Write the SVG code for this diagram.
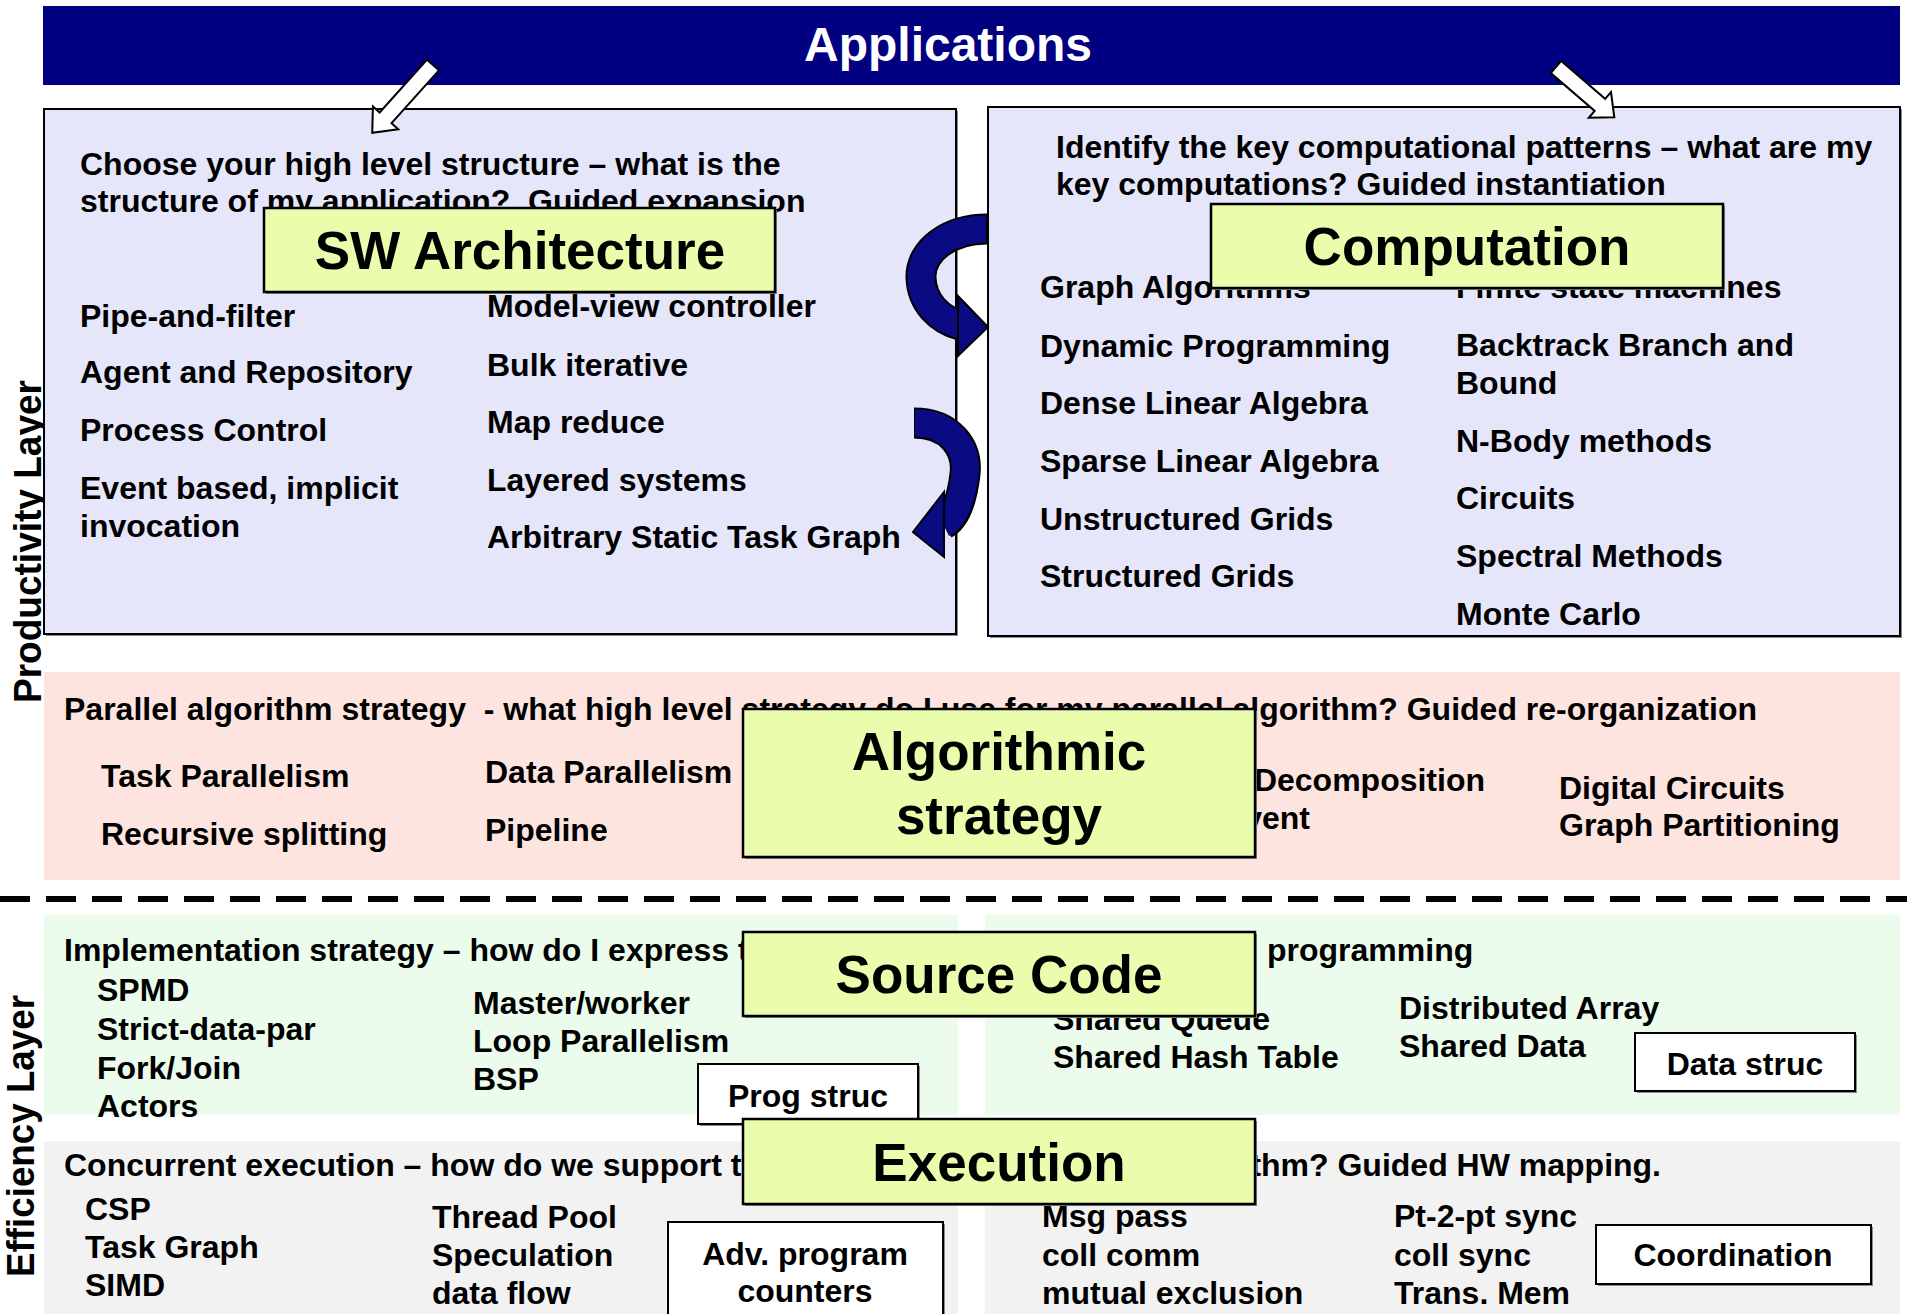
<svg xmlns="http://www.w3.org/2000/svg" width="1907" height="1314" viewBox="0 0 1907 1314">
<defs>
<style>
.t{font-family:'Liberation Sans',Arial,Helvetica,sans-serif;font-weight:bold;font-size:32px;fill:#000}
.pre{white-space:pre}
.big{font-size:53px;text-anchor:middle}
.mid{text-anchor:middle}
.end{text-anchor:end}
.side{font-size:38px}
.panel{fill:#E6E6FA;stroke:#000;stroke-width:2}
.shadow{fill:#8a8a8a}
.ybox{fill:#E9FDAD;stroke:#000;stroke-width:2.5}
.wbox{fill:#fff;stroke:#000;stroke-width:2}
.warrow{fill:#fff;stroke:#000;stroke-width:2;stroke-linejoin:miter}
.rib-o{fill:none;stroke:#000;stroke-width:31}
.rib-i{fill:none;stroke:#0A0A82;stroke-width:27}
.head{fill:#0A0A82;stroke:#000;stroke-width:2;stroke-linejoin:miter}
</style>
</defs>
<rect width="1907" height="1314" fill="#fff"/>

<g id="banner">
<rect x="43" y="6" width="1857" height="79" fill="#000080"/>
<text class="t mid" x="948" y="61" style="fill:#fff;font-size:48px">Applications</text>
</g>

<g id="layer-labels">
<text class="t side" transform="translate(41,703) rotate(-90)" textLength="323" lengthAdjust="spacingAndGlyphs">Productivity Layer</text>
<text class="t side" transform="translate(34,1277) rotate(-90)" textLength="282" lengthAdjust="spacingAndGlyphs">Efficiency Layer</text>
</g>

<g id="sw-panel">
<rect class="shadow" x="46" y="111" width="912" height="525"/>
<rect class="panel" x="44" y="109" width="912" height="525"/>
<text class="t" x="80" y="175">Choose your high level structure – what is the</text>
<text class="t pre" x="80" y="212" xml:space="preserve">structure of my application?  Guided expansion</text>
<text class="t" x="80" y="327">Pipe-and-filter</text>
<text class="t" x="80" y="383">Agent and Repository</text>
<text class="t" x="80" y="441">Process Control</text>
<text class="t" x="80" y="499">Event based, implicit</text>
<text class="t" x="80" y="537">invocation</text>
<text class="t" x="487" y="317">Model-view controller</text>
<text class="t" x="487" y="376">Bulk iterative</text>
<text class="t" x="487" y="433">Map reduce</text>
<text class="t" x="487" y="491">Layered systems</text>
<text class="t" x="487" y="548">Arbitrary Static Task Graph</text>
</g>

<g id="comp-panel">
<rect class="shadow" x="990" y="109" width="912" height="529"/>
<rect class="panel" x="988" y="107" width="912" height="529"/>
<text class="t" x="1056" y="158">Identify the key computational patterns – what are my</text>
<text class="t" x="1056" y="195">key computations? Guided instantiation</text>
<text class="t" x="1040" y="298">Graph Algorithms</text>
<text class="t" x="1040" y="357">Dynamic Programming</text>
<text class="t" x="1040" y="414">Dense Linear Algebra</text>
<text class="t" x="1040" y="472">Sparse Linear Algebra</text>
<text class="t" x="1040" y="530">Unstructured Grids</text>
<text class="t" x="1040" y="587">Structured Grids</text>
<text class="t" x="1456" y="298">Finite state machines</text>
<text class="t" x="1456" y="356">Backtrack Branch and</text>
<text class="t" x="1456" y="394">Bound</text>
<text class="t" x="1456" y="452">N-Body methods</text>
<text class="t" x="1456" y="509">Circuits</text>
<text class="t" x="1456" y="567">Spectral Methods</text>
<text class="t" x="1456" y="625">Monte Carlo</text>
</g>

<g id="algo-band">
<rect x="44" y="672" width="1856" height="208" fill="#FDE4DF"/>
<text class="t pre" x="64" y="720" xml:space="preserve" textLength="1693" lengthAdjust="spacing">Parallel algorithm strategy  - what high level strategy do I use for my parallel algorithm? Guided re-organization</text>
<text class="t" x="101" y="787">Task Parallelism</text>
<text class="t" x="101" y="845">Recursive splitting</text>
<text class="t" x="485" y="783">Data Parallelism</text>
<text class="t" x="485" y="841">Pipeline</text>
<text class="t end" x="1485" y="791">Geometric Decomposition</text>
<text class="t end" x="1310" y="829">Discrete Event</text>
<text class="t" x="1559" y="799">Digital Circuits</text>
<text class="t" x="1559" y="836">Graph Partitioning</text>
</g>

<g id="divider">
<line x1="0" y1="899" x2="1907" y2="899" stroke="#000" stroke-width="6" stroke-dasharray="30 16"/>
</g>

<g id="impl-band">
<rect x="44" y="915" width="914" height="200" fill="#EBFCEC"/>
<rect x="985" y="915" width="915" height="200" fill="#EBFCEC"/>
<text class="t" x="64" y="961">Implementation strategy – how do I express the</text>
<text class="t" x="1267" y="961">programming</text>
<text class="t" x="97" y="1001">SPMD</text>
<text class="t" x="97" y="1040">Strict-data-par</text>
<text class="t" x="97" y="1079">Fork/Join</text>
<text class="t" x="97" y="1117">Actors</text>
<text class="t" x="473" y="1014">Master/worker</text>
<text class="t" x="473" y="1052">Loop Parallelism</text>
<text class="t" x="473" y="1090">BSP</text>
<text class="t" x="1053" y="1030">Shared Queue</text>
<text class="t" x="1053" y="1068">Shared Hash Table</text>
<text class="t" x="1399" y="1019">Distributed Array</text>
<text class="t" x="1399" y="1057">Shared Data</text>
</g>

<g id="exec-band">
<rect x="44" y="1141" width="914" height="173" fill="#F2F2F2"/>
<rect x="985" y="1141" width="915" height="173" fill="#F2F2F2"/>
<text class="t" x="64" y="1176">Concurrent execution – how do we support the</text>
<text class="t end" x="1661" y="1176">algorithm? Guided HW mapping.</text>
<text class="t" x="85" y="1220">CSP</text>
<text class="t" x="85" y="1258">Task Graph</text>
<text class="t" x="85" y="1296">SIMD</text>
<text class="t" x="432" y="1228">Thread Pool</text>
<text class="t" x="432" y="1266">Speculation</text>
<text class="t" x="432" y="1304">data flow</text>
<text class="t" x="1042" y="1227">Msg pass</text>
<text class="t" x="1042" y="1266">coll comm</text>
<text class="t" x="1042" y="1304">mutual exclusion</text>
<text class="t" x="1394" y="1227">Pt-2-pt sync</text>
<text class="t" x="1394" y="1266">coll sync</text>
<text class="t" x="1394" y="1304">Trans. Mem</text>
</g>

<g id="connectors">
<polygon class="warrow" transform="translate(433,65) rotate(131.9)" points="0,-8 71,-8 71,-17 91,0 71,17 71,8 0,8"/>
<polygon class="warrow" transform="translate(1556,67) rotate(40.8)" points="0,-8 58,-8 58,-17 77,0 58,17 58,8 0,8"/>
<path class="rib-o" d="M 987 229 C 950 229, 920 250, 921 278 C 922 303, 940 320, 960 325"/>
<path class="rib-i" d="M 986 229 C 950 229, 920 250, 921 278 C 922 303, 940 320, 961 325"/>
<polygon class="head" points="958,296 988,327 958,356"/>
<path class="rib-o" d="M 914 423 C 950 423, 968 448, 965 474 C 962 500, 955 518, 944 524"/>
<path class="rib-i" d="M 915 423 C 950 423, 968 448, 965 474 C 962 500, 955 518, 943 524"/>
<polygon class="head" points="944,492 913,532 944,557"/>
</g>

<g id="sw-architecture">
<rect class="shadow" x="266" y="210" width="511" height="84"/>
<rect class="ybox" x="264" y="208" width="511" height="84"/>
<text class="t big" x="520" y="269">SW Architecture</text>
</g>

<g id="computation">
<rect class="shadow" x="1213" y="206" width="512" height="84"/>
<rect class="ybox" x="1211" y="204" width="512" height="84"/>
<text class="t big" x="1467" y="265">Computation</text>
</g>

<g id="algorithmic-strategy">
<rect class="shadow" x="745" y="711" width="512" height="148"/>
<rect class="ybox" x="743" y="709" width="512" height="148"/>
<text class="t big" x="999" y="770">Algorithmic</text>
<text class="t big" x="999" y="834">strategy</text>
</g>

<g id="source-code">
<rect class="shadow" x="745" y="934" width="512" height="84"/>
<rect class="ybox" x="743" y="932" width="512" height="84"/>
<text class="t big" x="999" y="993">Source Code</text>
</g>

<g id="prog-struc">
<rect class="shadow" x="700" y="1066" width="220" height="60"/>
<rect class="wbox" x="698" y="1064" width="220" height="60"/>
<text class="t mid" x="808" y="1107">Prog struc</text>
</g>

<g id="data-struc">
<rect class="shadow" x="1637" y="1035" width="220" height="58"/>
<rect class="wbox" x="1635" y="1033" width="220" height="58"/>
<text class="t mid" x="1745" y="1075">Data struc</text>
</g>

<g id="execution">
<rect class="shadow" x="745" y="1121" width="512" height="85"/>
<rect class="ybox" x="743" y="1119" width="512" height="85"/>
<text class="t big" x="999" y="1181">Execution</text>
</g>

<g id="adv-program-counters">
<rect class="shadow" x="670" y="1224" width="275" height="110"/>
<rect class="wbox" x="668" y="1222" width="275" height="110"/>
<text class="t mid" x="805" y="1265">Adv. program</text>
<text class="t mid" x="805" y="1302">counters</text>
</g>

<g id="coordination">
<rect class="shadow" x="1598" y="1227" width="275" height="59"/>
<rect class="wbox" x="1596" y="1225" width="275" height="59"/>
<text class="t mid" x="1733" y="1266">Coordination</text>
</g>
</svg>
